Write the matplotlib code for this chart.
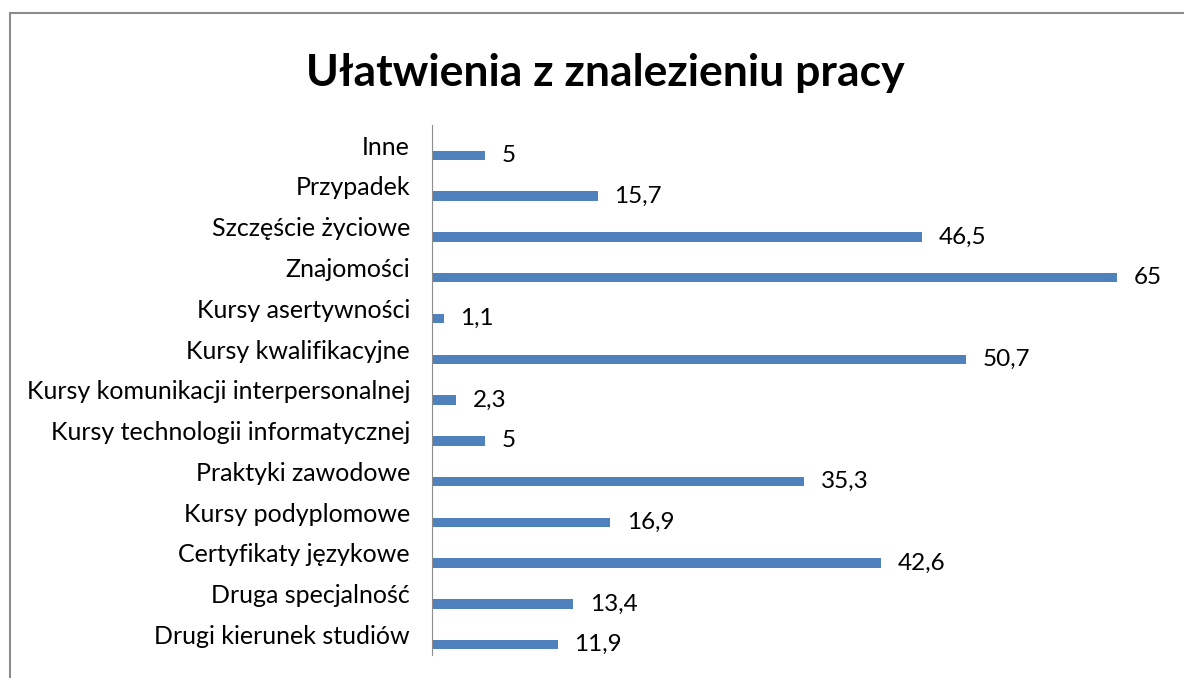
import matplotlib.pyplot as plt
from matplotlib.patches import Rectangle

# data, top to bottom as in the chart
categories = ['Inne', 'Przypadek', 'Szczęście życiowe', 'Znajomości',
              'Kursy asertywności', 'Kursy kwalifikacyjne',
              'Kursy komunikacji interpersonalnej',
              'Kursy technologii informatycznej', 'Praktyki zawodowe',
              'Kursy podyplomowe', 'Certyfikaty językowe',
              'Druga specjalność', 'Drugi kierunek studiów']
values = [5, 15.7, 46.5, 65, 1.1, 50.7, 2.3, 5, 35.3, 16.9, 42.6, 13.4, 11.9]

plt.rcParams['font.family'] = ['Lato', 'DejaVu Sans']

fig = plt.figure(figsize=(11.84, 6.78), dpi=100)
ax = fig.add_axes([0.365, 0.034, 0.623, 0.782])

# grey outer frame (runs off right/bottom edges like the original)
fig.patches.append(Rectangle((10 / 1184, -0.05), 1.2, 1 - 13 / 678 + 0.05,
                             transform=fig.transFigure, fill=False,
                             edgecolor='#8c8c8c', linewidth=1.5))

n = len(categories)
pos = [n - 1 - i for i in range(n)]
bar_pos = [p - 0.25 for p in pos]
ax.barh(bar_pos, values, height=0.23, color='#4F81BD')

for y, v in zip(bar_pos, values):
    label = ('%g' % v).replace('.', ',')
    ax.annotate(label, (v, y), xytext=(12, 0), textcoords='offset points',
                va='center', ha='left', fontsize=17.5)

ax.set_ylim(-0.5, n - 0.5)
ax.set_xlim(0, 70)
ax.set_yticks(pos)
ax.set_yticklabels(categories, fontsize=18)
ax.tick_params(axis='y', length=0, pad=16)
ax.set_xticks([])
for s in ['top', 'right', 'bottom']:
    ax.spines[s].set_visible(False)
ax.spines['left'].set_color('#8c8c8c')

fig.text(0.511, 0.893, 'Ułatwienia z znalezieniu pracy', ha='center',
         va='center', fontsize=32, fontweight='bold')

fig.savefig('out.png', dpi=100)
